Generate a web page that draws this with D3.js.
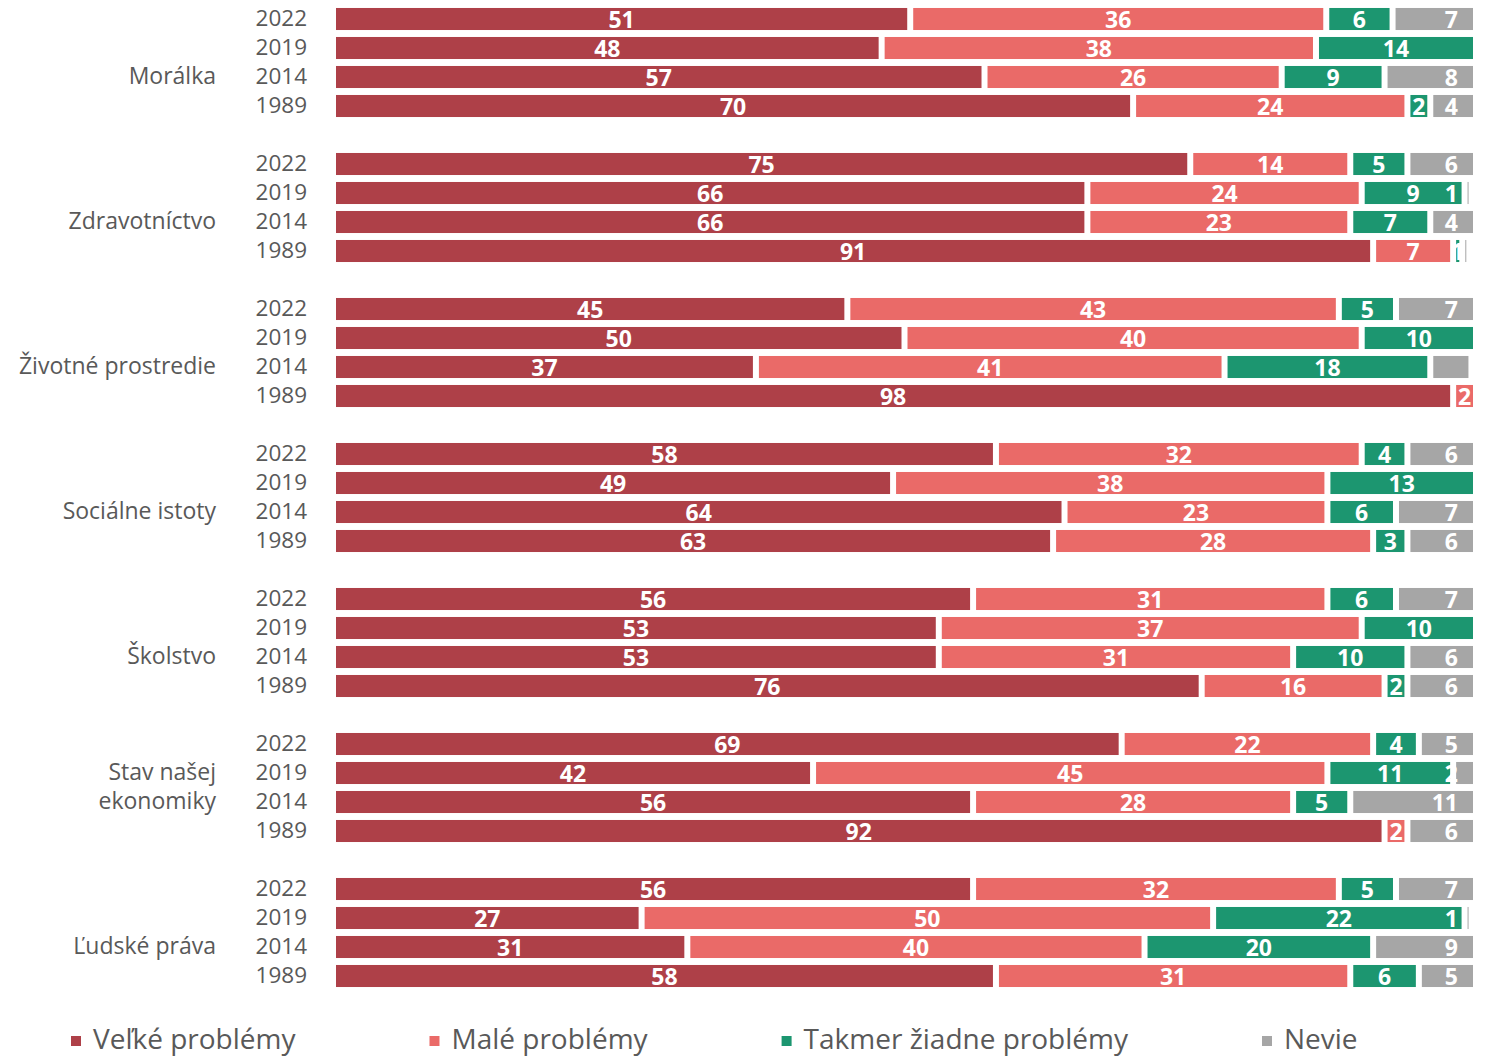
<!DOCTYPE html>
<html>
<head>
<meta charset="utf-8">
<script src="https://cdn.jsdelivr.net/npm/d3@7"></script>
<style>
  body { margin: 0; background: #fff; }
  svg { display: block; font-family: "Open Sans", sans-serif; }
</style>
</head>
<body>
<div id="chart"></div>
<script>
var categories = ["Morálka", "Zdravotníctvo", "Životné prostredie", "Sociálne istoty", "Školstvo", "Stav našej ekonomiky", "Ľudské práva"];
var categoryLines = [["Morálka"], ["Zdravotníctvo"], ["Životné prostredie"], ["Sociálne istoty"], ["Školstvo"], ["Stav našej", "ekonomiky"], ["Ľudské práva"]];
var years = ["2022", "2019", "2014", "1989"];
var seriesNames = ["Veľké problémy", "Malé problémy", "Takmer žiadne problémy", "Nevie"];

// values per series, category by category, years in order 2022, 2019, 2014, 1989
var velke  = [50.5, 48, 57, 70,  75, 66, 66, 91,  45, 50, 37, 98,  58, 49, 64, 63,  56, 53, 53, 76,  69, 42, 56, 92,  56, 27, 31, 58];
var male   = [36.4, 38, 26, 24,  14, 24, 23, 7,   43, 40, 41, 2,   32, 38, 23, 28,  31, 37, 31, 16,  22, 45, 28, 2,   32, 50, 40, 31];
var takmer = [5.8, 14, 9, 2,     5, 9, 7, 0.8,    5, 10, 18, 0,    4, 13, 6, 3,     6, 10, 10, 2,    4, 11, 5, 0,     5, 22, 20, 6];
var nevie  = [7.3, 0, 8, 4,      6, 0.6, 4, 0.4,  7, 0, 3.6, 0,    6, 0, 7, 6,      7, 0, 6, 6,      5, 2, 11, 6,     7, 0.6, 9, 5];
var hiddenLabels = ["Životné prostredie|2014|Nevie"];

var colors = ["#ae4048", "#ea6a68", "#1c9670", "#a6a6a6"];
var seriesValues = [velke, male, takmer, nevie];

var width = 1491, height = 1056;
var svg = d3.select("#chart").append("svg").attr("width", width).attr("height", height);

// one slot per bar, plus one empty slot between groups
var slots = [];
categories.forEach(function (c, ci) {
  years.forEach(function (y) { slots.push(c + "|" + y); });
  if (ci < categories.length - 1) slots.push("gap" + ci);
});

var yBand = d3.scaleBand().domain(slots).range([4.5, 4.5 + slots.length * 29]).paddingInner(0.24).paddingOuter(0.12);
var x = d3.scaleLinear().domain([0, 100]).range([333, 1476]);

var rows = [];
categories.forEach(function (c, ci) {
  years.forEach(function (y, yi) {
    var idx = ci * 4 + yi;
    var start = 0;
    var segs = seriesValues.map(function (arr, si) {
      var s = { cat: c, year: y, series: si, value: arr[idx], x0: start, x1: start + arr[idx] };
      start += arr[idx];
      return s;
    });
    rows.push({ key: c + "|" + y, cat: c, year: y, segs: segs });
  });
});

var rowG = svg.selectAll("g.row").data(rows).enter().append("g").attr("class", "row")
  .attr("transform", function (d) { return "translate(0," + yBand(d.key) + ")"; });

rowG.selectAll("rect").data(function (d) { return d.segs.filter(function (s) { return s.value > 0; }); })
  .enter().append("rect")
  .attr("x", function (s) { return x(s.x0) + 3; })
  .attr("width", function (s) { return Math.max(x(s.x1) - x(s.x0) - 6, 1); })
  .attr("y", 0)
  .attr("height", yBand.bandwidth())
  .attr("fill", function (s) { return colors[s.series]; });

rowG.selectAll("text.val").data(function (d) {
  return d.segs.filter(function (s) {
    return Math.round(s.value) > 0 && hiddenLabels.indexOf(s.cat + "|" + s.year + "|" + seriesNames[s.series]) < 0;
  });
}).enter().append("text").attr("class", "val")
  .attr("x", function (s) {
    if (s.series === 3) return x(100) - 18;
    return (x(s.x0) + x(s.x1)) / 2;
  })
  .attr("text-anchor", function (s) { return s.series === 3 ? "end" : "middle"; })
  .attr("y", yBand.bandwidth() / 2 + 9)
  .attr("fill", "#fff")
  .style("font-weight", "bold")
  .style("font-size", "23px")
  .text(function (s) { return Math.round(s.value); });

// year labels
rowG.append("text")
  .attr("x", 307)
  .attr("y", yBand.bandwidth() / 2 + 7)
  .attr("text-anchor", "end")
  .attr("fill", "#595959")
  .style("font-size", "22.5px")
  .text(function (d) { return d.year; });

// category labels, last line sits on the 2014 row
categories.forEach(function (c, ci) {
  var lines = categoryLines[ci];
  var baseY = yBand(c + "|2014") + yBand.bandwidth() / 2 + 7;
  lines.forEach(function (line, li) {
    svg.append("text")
      .attr("x", 216)
      .attr("y", baseY - (lines.length - 1 - li) * 29)
      .attr("text-anchor", "end")
      .attr("fill", "#595959")
      .style("font-size", "23px")
      .text(line);
  });
});

// legend
var legend = svg.append("g").attr("transform", "translate(0,1041)");
var lx = 71;
seriesNames.forEach(function (name, i) {
  legend.append("rect").attr("x", lx).attr("y", -5).attr("width", 10).attr("height", 10).attr("fill", colors[i]);
  var t = legend.append("text")
    .attr("x", lx + 22)
    .attr("y", 8)
    .attr("fill", "#595959")
    .style("font-size", "28px")
    .text(name);
  lx += 22 + t.node().getComputedTextLength() + 134;
});
</script>
</body>
</html>
